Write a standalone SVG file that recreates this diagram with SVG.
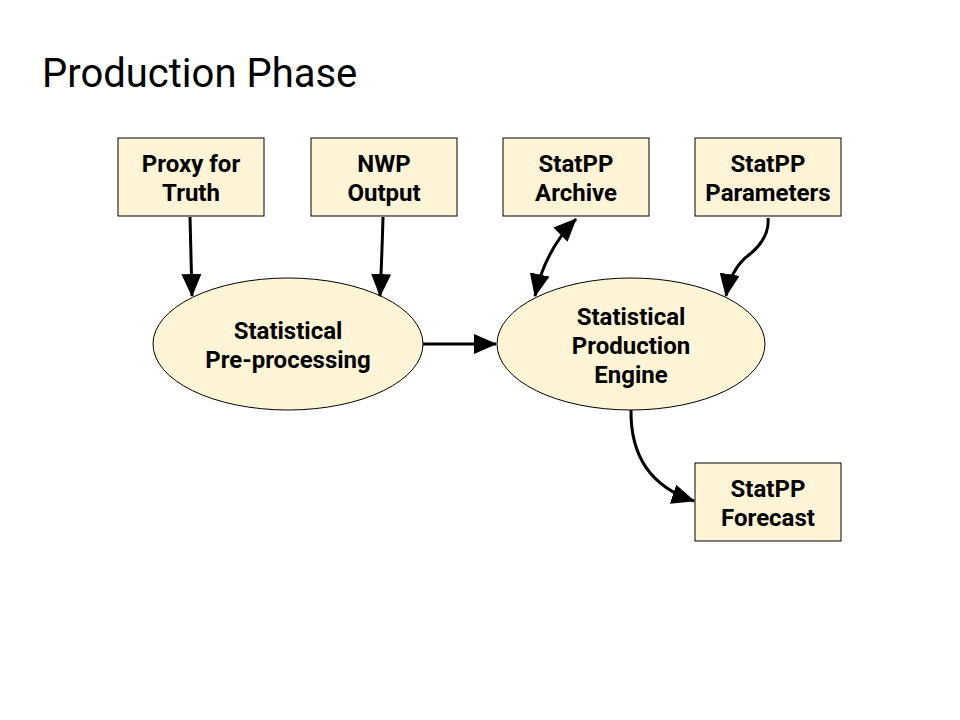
<svg xmlns="http://www.w3.org/2000/svg" width="960" height="720" viewBox="0 0 960 720">
<style>
.box{fill:#fff5d6;stroke:#000;stroke-width:1}
.lbl{font-family:Roboto,"Liberation Sans",sans-serif;font-weight:bold;font-size:24px;text-anchor:middle;fill:#000}
.title{font-family:Roboto,"Liberation Sans",sans-serif;font-size:40px;fill:#000}
.edge{fill:none;stroke:#000;stroke-width:3}
</style>
<defs>
<marker id="ah" markerUnits="userSpaceOnUse" markerWidth="24" markerHeight="20" refX="22" refY="10" orient="auto-start-reverse">
<path d="M0,0 L23,10 L0,20 Z" fill="#000"/>
</marker>
</defs>
<rect width="960" height="720" fill="#fff"/>
<text class="title" x="42" y="87">Production Phase</text>
<g id="proxy"><rect class="box" x="118" y="138" width="146" height="78"/><text class="lbl" x="191" y="172">Proxy for</text><text class="lbl" x="191" y="201">Truth</text></g>
<g id="nwp"><rect class="box" x="311" y="138" width="146" height="78"/><text class="lbl" x="384" y="172">NWP</text><text class="lbl" x="384" y="201">Output</text></g>
<g id="archive"><rect class="box" x="503" y="138" width="146" height="78"/><text class="lbl" x="576" y="172">StatPP</text><text class="lbl" x="576" y="201">Archive</text></g>
<g id="params"><rect class="box" x="695" y="138" width="146" height="78"/><text class="lbl" x="768" y="172">StatPP</text><text class="lbl" x="768" y="201">Parameters</text></g>
<g id="forecast"><rect class="box" x="695" y="463" width="146" height="78"/><text class="lbl" x="768" y="497">StatPP</text><text class="lbl" x="768" y="526">Forecast</text></g>
<g id="preproc"><ellipse class="box" cx="288" cy="344" rx="135" ry="66"/><text class="lbl" x="288" y="339">Statistical</text><text class="lbl" x="288" y="368">Pre-processing</text></g>
<g id="engine"><ellipse class="box" cx="631" cy="344" rx="134" ry="66"/><text class="lbl" x="631" y="325">Statistical</text><text class="lbl" x="631" y="354">Production</text><text class="lbl" x="631" y="383">Engine</text></g>
<g id="connectors">
<path class="edge" d="M190,217 Q191,255 192,296" marker-end="url(#ah)"/>
<path class="edge" d="M383,217 Q382,255 380,296" marker-end="url(#ah)"/>
<path class="edge" d="M576,219 Q545,250 535,296" marker-start="url(#ah)" marker-end="url(#ah)"/>
<path class="edge" d="M768,218 Q770,240 745,258 Q730,272 726,296" marker-end="url(#ah)"/>
<path class="edge" d="M423,344 L496,344" marker-end="url(#ah)"/>
<path class="edge" d="M631,410 Q630,480 694,501" marker-end="url(#ah)"/>
</g>
</svg>
